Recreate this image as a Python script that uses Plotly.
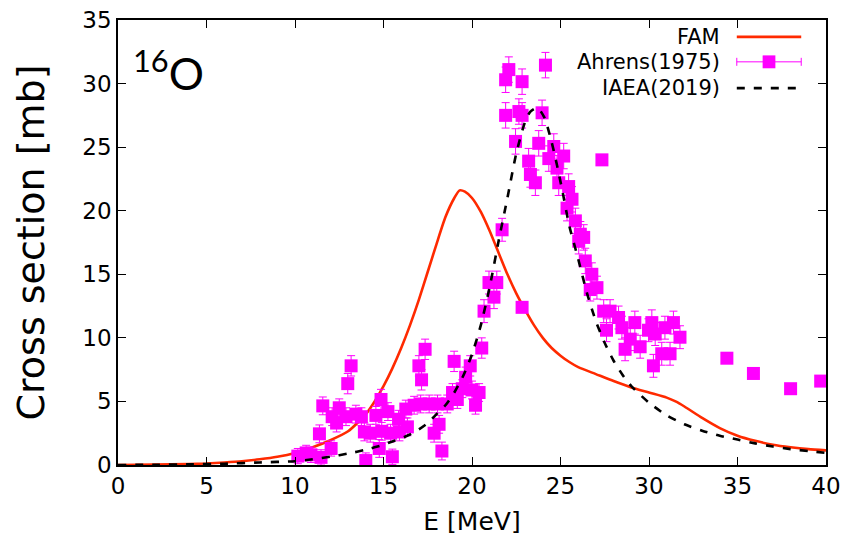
import plotly.graph_objects as go

# FAM calculation (photoabsorption cross section, 16O)
fam_e = [0, 2, 4, 5, 6, 7, 8, 9, 10, 11, 12, 13, 14, 14.5, 15, 15.5, 16, 16.5,
         17, 17.5, 18, 18.5, 19, 19.3, 19.6, 20, 20.5, 21, 21.5, 22, 22.5, 23,
         23.5, 24, 24.5, 25, 25.5, 26, 27, 28, 29, 30, 31, 31.5, 32, 33, 34,
         35, 36, 37, 38, 39, 40]
fam_sigma = [0.0, 0.03, 0.08, 0.12, 0.2, 0.3, 0.45, 0.65, 0.95, 1.4, 1.95, 2.65,
             4.0, 5.0, 6.2, 7.6, 9.2, 11.0, 13.0, 15.2, 17.4, 19.5, 21.0, 21.6,
             21.5, 21.0, 19.9, 18.4, 16.7, 15.0, 13.5, 12.2, 11.0, 10.0, 9.2,
             8.6, 8.1, 7.7, 7.15, 6.6, 6.1, 5.7, 5.3, 5.0, 4.6, 3.7, 2.9, 2.3,
             1.9, 1.6, 1.4, 1.25, 1.15]

# IAEA (2019) evaluation
iaea_e = [0, 2, 4, 6, 8, 10, 11, 12, 13, 14, 15, 15.5, 16, 16.5, 17, 17.5, 18,
          18.5, 19, 19.5, 20, 20.5, 21, 21.5, 22, 22.5, 23, 23.3, 23.7, 24.1,
          24.5, 24.8, 25.1, 25.5, 26, 26.5, 27, 27.5, 28, 28.5, 29, 30, 31, 32,
          33, 34, 35, 36, 37, 38, 39, 40]
iaea_sigma = [0.0, 0.02, 0.05, 0.1, 0.2, 0.3, 0.45, 0.65, 0.9, 1.2, 1.6, 1.85,
              2.1, 2.4, 2.8, 3.3, 4.0, 4.7, 5.7, 7.0, 8.7, 11.0, 14.0, 17.6,
              21.0, 24.5, 27.0, 27.8, 28.1, 27.3, 25.4, 23.6, 21.6, 18.8, 16.2,
              13.5, 11.3, 9.6, 8.2, 7.1, 6.2, 4.9, 3.9, 3.2, 2.7, 2.3, 2.0, 1.7,
              1.45, 1.25, 1.1, 0.95]

# Ahrens (1975) measurement
ahrens_e = [10.16, 10.63, 10.9, 11.38, 11.47, 11.57, 12.04, 12.1, 12.35, 12.5,
            12.98, 13.17, 12.88, 13.44, 13.75, 13.92, 14.0, 14.25, 14.57, 14.76,
            14.86, 14.9, 15.25, 15.4, 15.5, 15.85, 15.9, 16.26, 16.35, 16.73,
            17.0, 17.15, 17.35, 17.1, 17.58, 17.86, 18.05, 18.14, 18.3, 18.6,
            18.99, 18.9, 19.17, 19.45, 19.64, 19.9, 20.0, 20.2, 20.4, 20.55,
            20.68, 20.96, 21.24, 21.4, 21.7, 21.9, 21.9, 22.08, 22.46, 22.65,
            22.83, 22.83, 22.83, 23.2, 23.3, 23.58, 23.77, 23.96, 24.15, 24.34,
            24.62, 24.8, 24.9, 25.18, 25.46, 25.65, 25.37, 25.84, 26.12, 26.03,
            26.31, 26.4, 26.77, 27.06, 26.68, 27.34, 27.44, 27.8, 27.6, 28.28,
            28.47, 29.2, 28.65, 28.94, 29.5, 29.97, 30.16, 30.35, 30.25, 30.72,
            30.9, 31.38, 31.75, 31.19, 34.4, 35.9, 38.0, 39.7]
ahrens_sigma = [0.7, 0.95, 0.8, 2.45, 0.6, 4.65, 1.3, 3.8, 3.3, 4.5,
                6.4, 7.8, 3.8, 4.0, 3.8, 2.6, 0.35, 2.5, 3.9, 1.3,
                5.15, 2.65, 4.2, 2.5, 0.65, 3.6, 2.6, 4.4, 3.0, 4.7,
                7.8, 6.7, 9.1, 4.8, 4.8, 2.5, 4.8, 3.2, 1.1, 4.8,
                8.15, 5.7, 5.15, 6.0, 6.9, 7.8, 5.9, 4.7, 5.7, 9.2,
                12.1, 14.35, 13.2, 14.35, 18.5, 27.5, 30.3, 31.1, 25.45, 27.8,
                30.15, 27.5, 12.4, 23.9, 22.85, 22.2, 25.3, 27.7, 31.45, 24.1,
                25.05, 23.35, 22.2, 24.3, 21.9, 20.9, 20.2, 19.2, 18.15, 17.6,
                17.9, 16.05, 15.0, 13.95, 13.8, 24.0, 12.1, 12.1, 10.6, 11.6,
                10.8, 11.2, 9.1, 9.9, 9.3, 10.6, 11.2, 10.3, 7.8, 8.75,
                10.8, 11.2, 10.05, 8.75, 8.4, 7.2, 6.0, 6.6]
ahrens_err = [0.6, 0.6, 0.6, 0.7, 0.6, 0.7, 0.6, 0.7, 0.7, 0.7,
              0.8, 0.8, 0.7, 0.7, 0.7, 0.7, 0.6, 0.7, 0.7, 0.7,
              0.8, 0.7, 0.7, 0.7, 0.6, 0.7, 0.7, 0.7, 0.7, 0.7,
              0.8, 0.8, 0.8, 0.7, 0.7, 0.7, 0.7, 0.7, 0.7, 0.7,
              0.8, 0.7, 0.7, 0.7, 0.8, 0.8, 0.7, 0.7, 0.7, 0.8,
              0.9, 0.9, 0.9, 0.9, 0.9, 1.0, 1.0, 1.0, 1.0, 1.0,
              1.0, 1.0, 0.0, 1.0, 1.0, 1.0, 1.0, 1.0, 1.0, 1.0,
              1.0, 1.0, 1.0, 1.0, 1.0, 1.0, 1.0, 1.0, 1.0, 1.0,
              1.0, 1.0, 0.9, 0.9, 0.9, 0.0, 0.9, 0.9, 0.9, 0.9,
              0.9, 0.9, 0.9, 0.9, 0.9, 0.9, 1.0, 0.9, 0.9, 0.9,
              0.9, 0.9, 0.9, 0.9, 0.0, 0.0, 0.0, 0.0]

x_ticks = [0, 5, 10, 15, 20, 25, 30, 35, 40]
y_ticks = [0, 5, 10, 15, 20, 25, 30, 35]

RED = "#ff2a00"
MAGENTA = "#ff00ff"
TICK_FONT = dict(family="DejaVu Sans", size=23, color="black")

fig = go.Figure()

fig.add_trace(go.Scatter(
    x=fam_e, y=fam_sigma, mode="lines", name="FAM",
    line=dict(color=RED, width=2.6, shape="spline", smoothing=0.6),
))
fig.add_trace(go.Scatter(
    x=ahrens_e, y=ahrens_sigma, mode="markers", name="Ahrens(1975)",
    marker=dict(symbol="square", size=13, color=MAGENTA),
    error_y=dict(type="data", array=ahrens_err, visible=True,
                 color=MAGENTA, thickness=1, width=4),
))
fig.add_trace(go.Scatter(
    x=iaea_e, y=iaea_sigma, mode="lines", name="IAEA(2019)",
    line=dict(color="black", width=2.6, dash="8px,9px",
              shape="spline", smoothing=0.6),
))

# Hand-built key: label on the left, sample on the right
key_rows = [("FAM", 0.962), ("Ahrens(1975)", 0.906), ("IAEA(2019)", 0.847)]
x_text, x_a, x_b, x_mid = 0.853, 0.874, 0.965, 0.9195
for label, yk in key_rows:
    fig.add_annotation(x=x_text, y=yk, xref="paper", yref="paper",
                       text=label, showarrow=False, xanchor="right",
                       yanchor="middle",
                       font=dict(family="DejaVu Sans", size=21, color="black"))
fig.add_shape(type="line", xref="paper", yref="paper", x0=x_a, x1=x_b,
              y0=0.962, y1=0.962, line=dict(color=RED, width=2.6))
fig.add_shape(type="line", xref="paper", yref="paper", x0=x_a, x1=x_b,
              y0=0.906, y1=0.906, line=dict(color=MAGENTA, width=1))
for xc in (x_a, x_b):
    fig.add_shape(type="line", xref="paper", yref="paper", x0=xc, x1=xc,
                  y0=0.906 - 0.009, y1=0.906 + 0.009,
                  line=dict(color=MAGENTA, width=1))
fig.add_shape(type="rect", xref="paper", yref="paper",
              x0=x_mid - 0.009, x1=x_mid + 0.009,
              y0=0.906 - 0.0145, y1=0.906 + 0.0145,
              fillcolor=MAGENTA, line=dict(width=0))
fig.add_shape(type="line", xref="paper", yref="paper", x0=x_a, x1=x_b,
              y0=0.847, y1=0.847,
              line=dict(color="black", width=2.6, dash="8px,9px"))

# Nucleus label
fig.add_annotation(x=0.019, y=0.955, xref="paper", yref="paper",
                   text="<sup>16</sup>O", showarrow=False,
                   xanchor="left", yanchor="top",
                   font=dict(family="Lato", size=44, color="black"))

axis_common = dict(
    showline=True, linecolor="black", linewidth=1.5, mirror="ticks",
    ticks="inside", ticklen=8, tickwidth=1.2, tickcolor="black",
    showgrid=False, zeroline=False, tickfont=TICK_FONT,
)

fig.update_xaxes(
    range=[0, 40], tickvals=x_ticks, ticktext=[str(v) for v in x_ticks],
    title=dict(text="E [MeV]", standoff=14,
               font=dict(family="DejaVu Sans", size=25, color="black")),
    **axis_common,
)
fig.update_yaxes(
    range=[0, 35], tickvals=y_ticks, ticktext=[str(v) for v in y_ticks],
    title=dict(text="Cross section [mb]", standoff=26,
               font=dict(family="DejaVu Sans", size=38, color="black")),
    **axis_common,
)

fig.update_layout(
    width=846, height=551,
    margin=dict(l=118, r=20, t=20, b=86, autoexpand=False),
    paper_bgcolor="white", plot_bgcolor="white",
    showlegend=False,
)

fig.write_html("out.html")
